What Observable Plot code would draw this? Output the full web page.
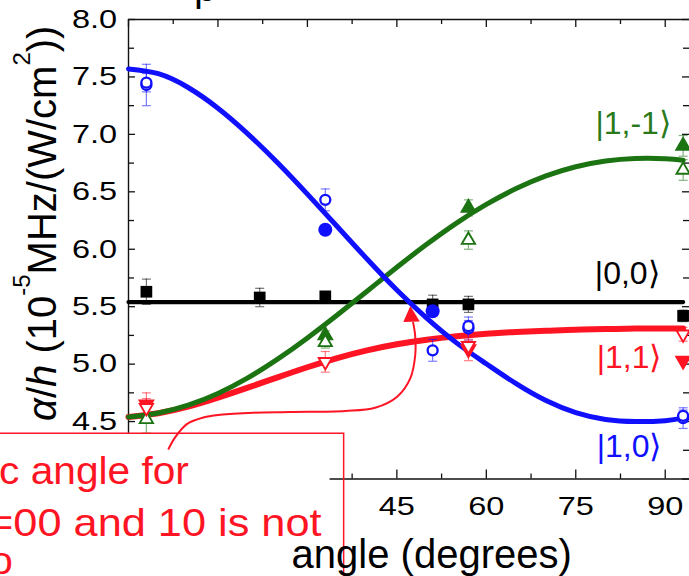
<!DOCTYPE html>
<html><head><meta charset="utf-8">
<script src="https://cdn.jsdelivr.net/npm/d3@7"></script>
<script src="https://cdn.jsdelivr.net/npm/@observablehq/plot@0.6"></script>
<style>html,body{margin:0;padding:0;background:#fff}svg{display:block}</style>
</head><body><div id="chart"></div>
<script>
// ---- fitted curves ----
const fitAngles = [0,5,10,15,20,25,30,35,40,45,50,55,60,65,70,75,80,85,90,93];
const fit10  = [7.57,7.528,7.408,7.228,7.005,6.753,6.48,6.198,5.915,5.645,5.40,5.185,5.003,4.83,4.683,4.578,4.518,4.50,4.508,4.53];
const fit1m1 = [4.54,4.575,4.643,4.745,4.88,5.043,5.228,5.428,5.635,5.843,6.043,6.228,6.39,6.528,6.638,6.718,6.768,6.79,6.788,6.774];
const fit11  = [4.54,4.573,4.63,4.708,4.795,4.885,4.973,5.053,5.12,5.173,5.213,5.243,5.265,5.28,5.29,5.30,5.305,5.31,5.31,5.31];
const fit00Angles = [0, 93];
const fit00  = [5.54, 5.54];

// ---- measured points ----
const ang00 = [3, 22, 33, 51, 57, 93];
const val00 = [5.63, 5.58, 5.59, 5.52, 5.52, 5.42];
const err00 = [0.11, 0.08, 0.03, 0.08, 0.07, 0.05];

const ang10f = [33, 51];
const val10f = [6.17, 5.46];
const err10f = [0, 0];
const ang10o = [3, 3, 33, 51, 57, 57, 93, 93];
const val10o = [7.43, 7.45, 6.43, 5.12, 5.31, 5.33, 4.53, 4.55];
const err10o = [0.18, 0.08, 0.095, 0.095, 0.10, 0.05, 0.09, 0.05];

const ang1m1f = [33, 57, 93];
const val1m1f = [5.25, 6.36, 6.90];
const err1m1f = [0.04, 0.07, 0.09];
const ang1m1o = [3, 33, 57, 93];
const val1m1o = [4.52, 5.19, 6.08, 6.69];
const err1m1o = [0.12, 0.05, 0.08, 0.09];

const ang11f = [3, 57, 93];
const val11f = [4.65, 5.13, 5.03];
const err11f = [0.1, 0.1, 0];
const ang11o = [3, 33, 57, 93];
const val11o = [4.62, 5.02, 5.16, 5.26];
const err11o = [0.08, 0.09, 0.05, 0.06];

// ---- ticks ----
const xMajor = [0, 15, 30, 45, 60, 75, 90];
const xMinor = [7.5, 22.5, 37.5, 52.5, 67.5, 82.5];
const xTickLabels = ["0", "15", "30", "45", "60", "75", "90"];
const yMajor = [4.0, 4.5, 5.0, 5.5, 6.0, 6.5, 7.0, 7.5, 8.0];
const yMinor = [4.25, 4.75, 5.25, 5.75, 6.25, 6.75, 7.25, 7.75];
const yTickLabels = ["4.0", "4.5", "5.0", "5.5", "6.0", "6.5", "7.0", "7.5", "8.0"];

// ---- labels / annotation ----
const stateNames  = ["|1,-1\u27E9", "|0,0\u27E9", "|1,1\u27E9", "|1,0\u27E9"];
const stateLabelX = [78.3, 78.2, 78.5, 78.5];
const stateLabelY = [7.005, 5.70, 4.97, 4.19];
const noteLines = ["c angle for", "=00 and 10 is not", "o"];
const noteStretch = [1.07, 1.14, 1.07];
const noteX = [-21.7, -23.55, -23.2];
const noteY = [3.958, 3.505, 3.174];
const arrowX = [6.73, 7.82, 9.78, 12.56, 15.36, 20.95, 27.1, 36.33, 41.36, 45.05, 47.23, 48.07, 48.07, 47.73];
const arrowY = [4.263, 4.362, 4.478, 4.536, 4.559, 4.577, 4.583, 4.592, 4.62, 4.716, 4.873, 5.073, 5.247, 5.361];
const arrowTip = [{x: 47.42, y: 5.41}];

const BLUE = "#1010ff", GREEN = "#1b7312", RED = "#ff1424", BLACK = "#000";
const LABEL_GREEN = "#2a7a1c";

const rows = (a, v, e) => a.map((d, i) => ({a: d, v: v[i], e: e[i]}));
const caps = (r) => r.filter(d => d.e > 0).flatMap(d => [{a: d.a, v: d.v + d.e}, {a: d.a, v: d.v - d.e}]);
const curve = (a, v) => a.map((d, i) => ({a: d, v: v[i]}));

const capSym = {draw(ctx) { ctx.moveTo(-4.5, 0); ctx.lineTo(4.5, 0); }};
const triDown = {draw(ctx, size) {
  const y = -Math.sqrt(size / (Math.sqrt(3) * 3));
  ctx.moveTo(0, -2 * y); ctx.lineTo(-Math.sqrt(3) * y, y); ctx.lineTo(Math.sqrt(3) * y, y); ctx.closePath();
}};
const headSym = {draw(ctx) { ctx.moveTo(-1, -11); ctx.lineTo(-8, 5); ctx.lineTo(8.5, 4.5); ctx.closePath(); }};

const r00 = rows(ang00, val00, err00);
const r10f = rows(ang10f, val10f, err10f), r10o = rows(ang10o, val10o, err10o);
const r1m1f = rows(ang1m1f, val1m1f, err1m1f), r1m1o = rows(ang1m1o, val1m1o, err1m1o);
const r11f = rows(ang11f, val11f, err11f), r11o = rows(ang11o, val11o, err11o);

function errMarks(r, color) {
  const rr = r.filter(d => d.e > 0);
  return [
    Plot.ruleX(rr, {x: "a", y1: d => d.v - d.e, y2: d => d.v + d.e, stroke: color, strokeOpacity: 0.55, strokeWidth: 1.2}),
    Plot.dot(caps(r), {x: "a", y: "v", symbol: capSym, fill: "none", stroke: color, strokeOpacity: 0.55, strokeWidth: 1.2})
  ];
}

const TL = 7, TS = 5; // tick lengths
const plotH = 576 - 19 - 97.5, plotW = 689 - 128;

const plot = Plot.plot({
  width: 689, height: 576,
  marginLeft: 128, marginRight: 0, marginTop: 19, marginBottom: 97.5,
  x: {domain: [0, 94.07], axis: null},
  y: {domain: [4, 8], axis: null},
  style: {fontFamily: "'Liberation Sans', Arial, sans-serif", background: "white", color: "black"},
  marks: [
    // frame lines
    Plot.ruleX([0], {stroke: "#111", strokeWidth: 1.4}),
    Plot.ruleY([4], {stroke: "#111", strokeWidth: 1.4}),
    Plot.ruleY([8], {stroke: "#111", strokeWidth: 1.4}),
    // inward ticks
    Plot.tickX(xMajor, {x: d => d, insetTop: plotH - 9, stroke: "#111", strokeWidth: 1.3}),
    Plot.tickX(xMinor, {x: d => d, insetTop: plotH - TS, stroke: "#111", strokeWidth: 1.3}),
    Plot.tickX(xMajor, {x: d => d, insetBottom: plotH - 8, stroke: "#111", strokeWidth: 1.3}),
    Plot.tickX(xMinor, {x: d => d, insetBottom: plotH - TS, stroke: "#111", strokeWidth: 1.3}),
    Plot.tickY(yMajor, {y: d => d, insetRight: plotW - TL, stroke: "#111", strokeWidth: 1.3}),
    Plot.tickY(yMinor, {y: d => d, insetRight: plotW - TS - 1, stroke: "#111", strokeWidth: 1.3}),
    Plot.tickY(yMajor, {y: d => d, insetLeft: plotW - TL, stroke: "#111", strokeWidth: 1.3}),
    Plot.tickY(yMinor, {y: d => d, insetLeft: plotW - TS - 1, stroke: "#111", strokeWidth: 1.3}),
    // tick labels
    Plot.axisX({ticks: xMajor, tickSize: 0, tickPadding: 18, fontSize: 26, label: null,
      tickFormat: d => xTickLabels[xMajor.indexOf(d)]}),
    Plot.axisY({ticks: yMajor, tickSize: 0, tickPadding: 11.3, fontSize: 26, label: null,
      tickFormat: d => yTickLabels[yMajor.indexOf(d)]}),
    // fitted curves
    Plot.line(curve(fit00Angles, fit00), {x: "a", y: "v", stroke: BLACK, strokeWidth: 4.2}),
    Plot.line(curve(fitAngles, fit11), {x: "a", y: "v", stroke: RED, strokeWidth: 6, curve: "natural"}),
    Plot.line(curve(fitAngles, fit1m1), {x: "a", y: "v", stroke: GREEN, strokeWidth: 5, curve: "natural"}),
    Plot.line(curve(fitAngles, fit10), {x: "a", y: "v", stroke: BLUE, strokeWidth: 5, curve: "natural"}),
    // error bars
    ...errMarks(r00, BLACK),
    ...errMarks(r10o, BLUE),
    ...errMarks(r1m1f, GREEN), ...errMarks(r1m1o, GREEN),
    ...errMarks(r11f, RED), ...errMarks(r11o, RED),
    // markers
    Plot.dot(r00, {x: "a", y: "v", symbol: "square", r: 6.6, fill: BLACK}),
    Plot.dot(r10f, {x: "a", y: "v", symbol: "circle", r: 7, fill: BLUE}),
    Plot.dot(r10o, {x: "a", y: "v", symbol: "circle", r: 5, fill: "white", stroke: BLUE, strokeWidth: 2.3}),
    Plot.dot(r1m1f, {x: "a", y: "v", symbol: "triangle", r: 6.3, fill: GREEN}),
    Plot.dot(r1m1o, {x: "a", y: "v", symbol: "triangle", r: 4.9, fill: "white", stroke: GREEN, strokeWidth: 1.9}),
    Plot.dot(r11f, {x: "a", y: "v", symbol: triDown, r: 6.3, fill: RED}),
    Plot.dot(r11o, {x: "a", y: "v", symbol: triDown, r: 4.9, fill: "white", stroke: RED, strokeWidth: 1.9}),
    // state labels
    Plot.text(stateNames, {x: (d, i) => stateLabelX[i], y: (d, i) => stateLabelY[i], text: d => d,
      fill: (d, i) => [LABEL_GREEN, BLACK, RED, BLUE][i], fontSize: 32, textAnchor: "start", lineAnchor: "bottom"}),
    // annotation box
    Plot.rect([0], {x1: -25, x2: 33.8, y1: 2.9, y2: 4.394, fill: "white"}),
    Plot.rect([0], {x1: -25, x2: 36.16, y1: 2.9, y2: 4.394, fill: "none", stroke: RED, strokeWidth: 1.5}),
    Plot.text(noteLines, {x: (d, i) => noteX[i], y: (d, i) => noteY[i], text: d => d, fill: RED,
      fontSize: 38, textAnchor: "start", lineAnchor: "bottom"}),
    // annotation arrow
    Plot.line(curve(arrowX, arrowY), {x: "a", y: "v", stroke: RED, strokeWidth: 2, curve: "catmull-rom"}),
    Plot.dot(arrowTip, {x: "x", y: "y", symbol: headSym, fill: RED, stroke: "none"}),
    // axis titles
    Plot.text(["angle (degrees)"], {x: () => 50.84, frameAnchor: "bottom", dy: 88.5, lineAnchor: "bottom",
      textAnchor: "middle", fontSize: 40, fill: BLACK}),
    Plot.text(["YLABEL"], {frameAnchor: "left", rotate: -90, dx: -73, dy: -26, lineAnchor: "bottom",
      textAnchor: "middle", fontSize: 40, fill: BLACK}),
    // cut-off title fragment at the top
    Plot.text(["p"], {x: () => 11.0, y: () => 8.161, textAnchor: "start", lineAnchor: "bottom", fontSize: 40, fill: BLACK})
  ]
});

document.getElementById("chart").appendChild(plot);
const svg = d3.select(plot);

function stretch(node, k) {
  const t = node.getAttribute("transform") || "";
  if (node.hasAttribute("x")) {
    const x = parseFloat(node.getAttribute("x")) || 0;
    node.setAttribute("x", x / k);
  }
  node.setAttribute("transform", (t + ` scale(${k},1)`).trim());
}
svg.selectAll('g[aria-label="x-axis tick label"] text, g[aria-label="y-axis tick label"] text').each(function() { stretch(this, 1.25); });
svg.selectAll("text").each(function() {
  const s = this.textContent;
  const ni = noteLines.indexOf(s);
  if (ni >= 0) stretch(this, noteStretch[ni]);
  if (s === "YLABEL") {
    const t = d3.select(this);
    t.text(null);
    const parts = [["\u03B1", "italic", 0], ["/", null, 0], ["h", "italic", 0], [" (10", null, 0], ["-5", null, 1],
                   ["MHz/(W/cm", null, 0], ["2", null, 1], ["))", null, 0]];
    for (const [str, style, sup] of parts) {
      const ts = t.append("tspan").text(str);
      if (style) ts.attr("font-style", style);
      if (sup) ts.attr("font-size", "0.6em").attr("baseline-shift", "26px");
    }
  }
});
</script>
</body></html>
